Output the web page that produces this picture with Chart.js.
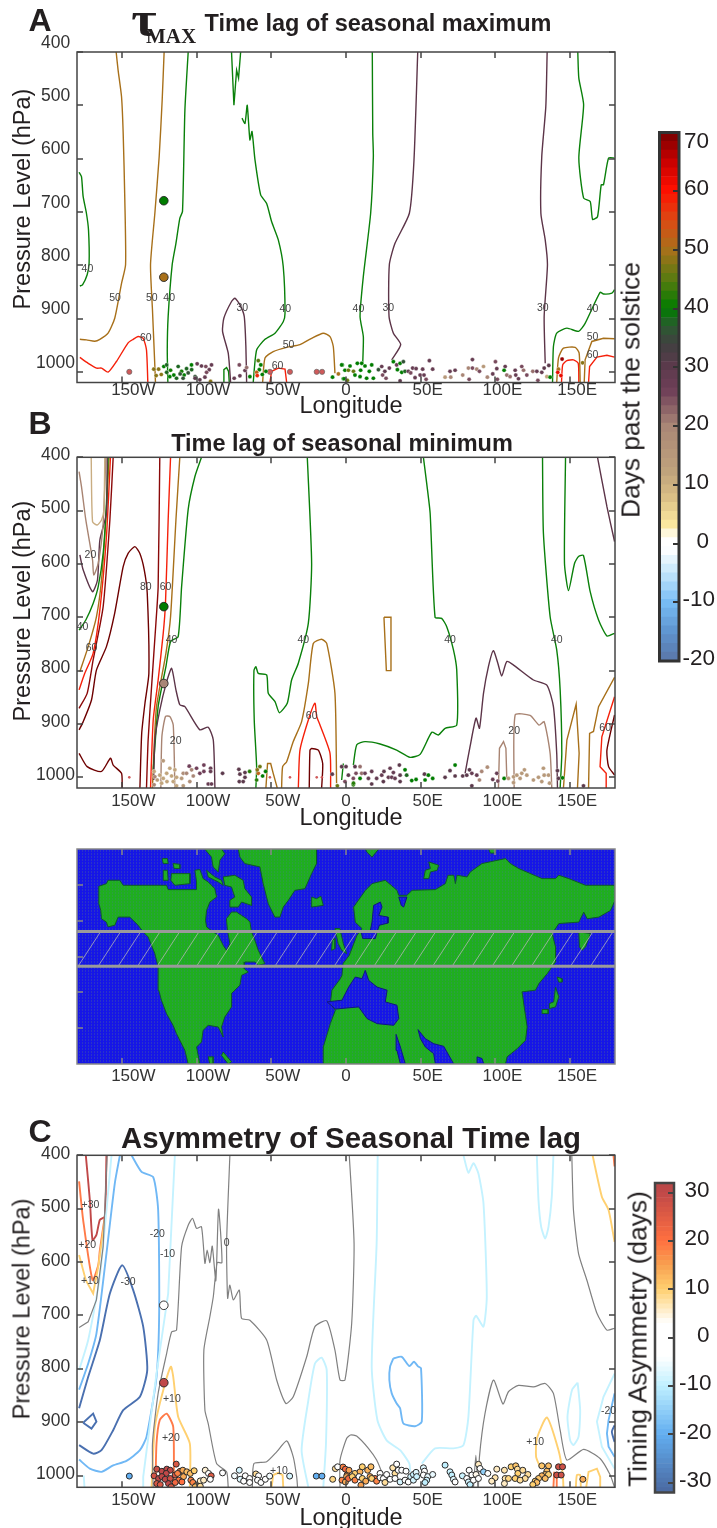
<!DOCTYPE html>
<html>
<head>
<meta charset="utf-8">
<title>Seasonal time lag</title>
<script src="https://cdn.jsdelivr.net/npm/chart.js@4/dist/chart.umd.min.js"></script>
<style>
  html, body { margin: 0; padding: 0; background: #fff; }
  #page { position: relative; width: 717px; height: 1528px; overflow: hidden; font-family: "Liberation Sans", Arial, sans-serif; color: #231f20; }
  canvas { position: absolute; left: 0; }
  .t { position: absolute; white-space: nowrap; transform: translate(-50%, -50%); }
  .v { transform: translate(-50%, -50%) rotate(-90deg); }
  .letter { font-weight: bold; font-size: 32px; }
  .title { font-weight: bold; font-size: 23.5px; }
  .axis { font-size: 23.5px; }
  .bar { font-size: 26.3px; }
  .serif { font-family: "Liberation Serif", serif; font-weight: bold; }
</style>
</head>
<body>
<div id="page">
  <canvas id="panelA" style="top:20px"></canvas>
  <canvas id="panelB" style="top:435px"></canvas>
  <canvas id="panelMap" style="top:835px"></canvas>
  <canvas id="panelC" style="top:1133px"></canvas>
  <canvas id="barLag" style="left:650px;top:120px"></canvas>
  <canvas id="barAsym" style="left:645px;top:1170px"></canvas>

  <div class="t letter" style="left:40px;top:20px">A</div>
  <div class="t letter" style="left:40px;top:423px">B</div>
  <div class="t letter" style="left:40px;top:1131px">C</div>
  <div class="t serif" style="left:144px;top:19px;font-size:50px;transform:translate(-50%,-50%) scaleX(1.1)">τ</div>
  <div class="t serif" style="left:171px;top:36px;font-size:21px">MAX</div>
  <div class="t title" style="left:378px;top:23px">Time lag of seasonal maximum</div>
  <div class="t title" style="left:342px;top:443px">Time lag of seasonal minimum</div>
  <div class="t title" style="left:351px;top:1138px;font-size:29.4px">Asymmetry of Seasonal Time lag</div>
  <div class="t axis v" style="left:22px;top:199px">Pressure Level (hPa)</div>
  <div class="t axis v" style="left:22px;top:611px">Pressure Level (hPa)</div>
  <div class="t axis v" style="left:22px;top:1309px">Pressure Level (hPa)</div>
  <div class="t axis" style="left:351px;top:405px">Longitude</div>
  <div class="t axis" style="left:351px;top:817px">Longitude</div>
  <div class="t axis" style="left:351px;top:1517px">Longitude</div>
  <div class="t bar v" style="left:631px;top:390px">Days past the solstice</div>
  <div class="t bar v" style="left:638px;top:1339px">Timing Asymmetry (days)</div>
</div>

<script>
// axis ticks
const lonTicks = [-150, -100, -50, 0, 50, 100, 150];
const lonLabels = ['150W', '100W', '50W', '0', '50E', '100E', '150E'];
const pressureTicks = [400, 500, 600, 700, 800, 900, 1000];
const latTicks = [15, 30, 45, 60, 75];
const lagTicks = [-20, -10, 0, 10, 20, 30, 40, 50, 60, 70];
const asymTicks = [-30, -20, -10, 0, 10, 20, 30];

// colorbar bands
const lagBands = [-20,-18.5,-17,-15.5,-14,-12.5,-11,-9.5,-8,-6.5,-5,-3.5,-2,-0.5,1,2.5,4,5.5,7,8.5,10,11.5,13,14.5,16,17.5,19,20.5,22,23.5,25,26.5,28,29.5,31,32.5,34,35.5,37,38.5,40,41.5,43,44.5,46,47.5,49,50.5,52,53.5,55,56.5,58,59.5,61,62.5,64,65.5,67,68.5,70,71];
const asymBands = [-32,-31,-30,-29,-28,-27,-26,-25,-24,-23,-22,-21,-20,-19,-18,-17,-16,-15,-14,-13,-12,-11,-10,-9,-8,-7,-6,-5,-4,-3,-2,-1,0,1,2,3,4,5,6,7,8,9,10,11,12,13,14,15,16,17,18,19,20,21,22,23,24,25,26,27,28,29,30,31,32];

// colormap anchors
const lagStopValues = [-20,-15,-10,-5,-1,1,3,8,12,20,26,30,34,37,40,45,50,55,60,65,70];
const lagStopColors = ['#5a76a8','#5f95d0','#78bdf5','#c4e6fb','#ffffff','#ffffff','#fdeaa0','#d8bd85','#c0a47c','#a98676','#6f3f58','#5c3a4c','#404040','#2a5a30','#007c00','#5a7a10','#a8701a','#dc4a14','#ff1000','#c80000','#780000'];
const asymStopValues = [-32,-20,-10,-4,3,10,15,20,30,32];
const asymStopColors = ['#4a68a0','#62aef0','#c0f0ff','#ffffff','#ffffff','#ffd070','#f8a050','#ff7040','#c04848','#b84848'];

// panel A contours, [lon, hPa]
const max30 = [
  [[-77.2,1020],[-78.8,965],[-82.6,924],[-81.7,899],[-76.6,868],[-74.3,862],[-71,874],[-68.1,896],[-67,952.5],[-66.5,1020]],
  [[48,400],[45.5,602.5],[42.4,702.5],[32.8,759],[29,799],[28.8,896],[31.7,927.5],[36.6,949],[30.6,977.5]],
  [[134.6,400],[133.7,502.5],[131,596],[130.4,702.5],[133.3,752.5],[134.8,799],[132.6,896],[133.3,984]]
];
const max40 = [
  [[-178.6,625.6],[-177,633.8],[-175.9,671],[-173.7,702.5],[-172.3,733.8],[-171.9,796],[-173.2,818],[-176.3,837],[-178.1,839]],
  [[-105.6,400],[-107.8,509],[-109.4,699],[-111.2,712],[-113.8,759],[-116.3,799],[-119,896],[-119.6,959],[-119.2,1020]],
  [[-76.6,400],[-75,500],[-73.2,434],[-71.9,449],[-70.5,400]],
  [[-69.6,524],[-67.6,534],[-66.1,500],[-64.3,565],[-62.9,549],[-60.9,602.5],[-57.1,668],[-53.1,684],[-49.8,718],[-45.3,752.5],[-42,802.5],[-40.8,890],[-42,906],[-47.5,927.5],[-54.2,939],[-59.8,959],[-62.1,1020]],
  [[-82.1,1020],[-81.7,996],[-79.9,992],[-78.6,999],[-78.1,1020]],
  [[17.6,400],[17.9,552.5],[18.3,596],[16.5,702.5],[11.6,821],[9.4,896],[11.6,934],[11.2,984]],
  [[155.1,400],[155.8,449],[159,499],[155.8,599],[159,674],[163.4,680.6],[165,714],[168.3,709],[170.8,649],[172.3,649],[175.7,599],[179.7,599]],
  [[138.2,1020],[138.8,952.5],[141,927.5],[147.8,918],[155.6,924],[160,909],[170,851],[172.3,854],[177.9,852.5],[179.7,846]]
];
const max50 = [
  [[-153.8,400],[-152.5,434],[-150.2,484],[-149.1,552.5],[-148,677.5],[-147.5,799],[-150.2,834],[-154.7,899],[-159.2,927.5],[-164.7,939],[-168.1,942.5],[-173.7,940],[-178.1,939]],
  [[-121.7,400],[-123,490],[-125,596],[-127.9,702.5],[-130.8,799],[-129.5,884],[-127.9,990],[-127.5,1020]],
  [[-55.8,1020],[-54.2,974],[-48.7,962],[-39.7,954],[-30.8,949],[-23,937],[-15.2,927.5],[-10.7,934],[-8.5,952.5],[-7.4,1002.5]],
  [[141,1020],[142.2,974],[145.5,955.6],[153.4,954],[156,965],[156.7,1020]],
  [[159.4,1020],[160,977.5],[164.5,943],[172.3,937],[179.7,938]]
];
const max60 = [
  [[-178.1,973],[-172.5,984],[-166.9,993],[-163.6,993],[-159.2,1000.6],[-153.6,980.6],[-145.8,945.6],[-142.4,939],[-139.1,933.8],[-135.7,937],[-133.5,959],[-132.6,1020]],
  [[-50.9,1020],[-49.8,999],[-45.3,993],[-40.8,995],[-39.7,1020]],
  [[144.2,1020],[145,987],[147.8,979],[152.2,977.5],[155.4,984],[155.8,1020]],
  [[162.3,1020],[163,990],[167.9,972.5],[174.6,969],[179.7,972.5]]
];
const maxLabels = [[-173,807.5,'40'],[-154.5,862.5,'50'],[-130,862.5,'50'],[-118.3,862.5,'40'],[-69.4,881,'30'],[-40.6,883,'40'],[-134,937,'60'],[-38.4,949,'50'],[-45.8,989,'60'],[8.3,883,'40'],[28.3,880.6,'30'],[131.7,880.6,'30'],[165,882,'40'],[165,934,'50'],[165,969,'60']];
const maxSites = [[-121.9,679,40],[-121.9,822.5,50]];
// soundings near 57 days are printed in a paler red, with an edge
const maxPale = [[-145,1000],[-50.9,1000],[-37.5,1000],[-19.6,1000],[-16,1000]];
// panel A soundings, [lon, hPa, days]
const maxDots = [
  [-128.6,995,48],[-125.4,995,48],[-127,1007,48],[-123.6,1005,48],
  [-121.9,990,40],[-120,987,38],[-117.4,997,41],[-120,1001,38],[-117.9,1009,40],[-115.2,1006,40],[-112.3,990,38],[-110,999,41],[-113.4,1012,38],[-108.3,1006,40],[-106.7,994,38],[-103.4,987,40],[-103.3,996,38],[-105.6,1002,36],[-101,1009,36],[-109,1012,36],[-111,1004,36],
  [-99.6,985,28],[-96.7,989,28],[-93.8,990,25],[-90,987,28],[-91.5,996,28],[-93.3,1001,25],[-94.4,1010,28],[-97.8,1015,30],[-101,1012,30],[-90.6,1018,48],
  [-71.4,987,25],[-67.6,997.5,28],[-71,1007.5,28],[-74.8,1012,28],[-66.5,992,22],[-64.3,1009,40],[-58.7,979,45],[-57,987,40],[-58,996,40],[-59.8,1001,52],[-59.4,1007,58],[-56,1005,40],[-53.6,999,40],
  [-9,1010,40],[-5.1,1004,50],[-2.5,987,40],[-1.8,1013,40],
  [-2.9,987,40],[2.7,989,40],[7.6,984,40],[10.5,984,40],[12.7,989,40],[17.2,987,40],[-0.7,997,40],[1.6,997,46],[5,999,46],[9.8,997,40],[15.6,999,40],[18.3,1012,40],[6,1006,40],[9.4,1009,40],[13.8,1012,40],[-1.3,1013,40],[0.9,1016,46],
  [21.7,996,36],[23.9,990,28],[26,999,30],[29,993,28],[31.7,981,40],[33.9,987,28],[36.2,984,40],[38.4,981,36],[34.4,996,40],[37.3,1001,40],[39.5,999,38],[24.5,1006,25],[26.8,1012,25],[36.2,1017,30],
  [41.7,999,28],[44.6,993,28],[46.9,994,28],[43.3,1002,25],[46.2,1011,28],[49.6,1006,28],[51.3,995,28],[52.2,1006,28],[53.6,1014,25],[55.8,979,28],[58,995,28],
  [66.3,1010,15],[69.6,999,28],[73,997,28],[70.1,1010,20],[78.1,1006,20],[81.9,993,20],[84.6,977,28],[84.6,993,25],[87.5,995,20],[89.3,999,25],[82.4,1014,25],[92,990,15],[94.6,1010,20],
  [98.2,1004,28],[100,981,25],[100.9,994,28],[101.3,1014,25],[106.5,990,28],[105.8,997,40],[107.6,1006,22],[109.8,1009,22],[113.2,997,28],[113.6,1006,28],[117.6,990,25],[118.8,997,22],[115.4,1013,28],[121,1006,25],[125,999,22],[127.7,999,28],[131,1001,28],[132.6,993,30],[135.7,988,30],[128.4,1016,25],[134.4,1009,12],[136.6,1010,40],
  [142.2,995,50],[144.6,976,68],[141.7,1001,62],[143.8,1007,62],[158.3,983,48]
];

// panel B contours
const min10 = [
  [[-170.5,400],[-169.6,520.6],[-166.5,527],[-163.6,517.5],[-162,499],[-161.4,400]]
];
const min20 = [
  [[-178.6,427],[-177,455],[-174.1,517.5],[-169.6,592.5],[-168.8,620.6],[-165.8,599],[-162.5,524],[-160.7,400]],
  [[-123.9,1020],[-123.2,924],[-120.8,886],[-117.9,886],[-115.6,902],[-114.5,1020]],
  [[102,1020],[102.7,945.6],[105.4,933],[107,945.6],[107.6,1002]],
  [[112.5,1020],[113.2,883],[123.2,884],[129.2,902],[132.6,895.6],[136.6,955],[137.7,1020]]
];
const min30 = [
  [[-178.1,583],[-175.9,611],[-169.6,652],[-166.3,630],[-164.7,555],[-160.3,505],[-159.8,400]],
  [[-128.6,1005],[-127.9,930],[-124.6,873.8],[-120,820.6],[-116.7,795.6],[-113.8,836],[-111.2,864],[-107.8,867.5],[-97.8,911],[-92.2,906],[-88.8,930],[-87.7,1020]],
  [[79.7,992.5],[83,942.5],[87,889],[89.3,908],[92,842.5],[95.3,792.5],[98.6,762.5],[101.6,786],[104.2,810],[107.6,783],[112.1,789.5],[125.4,817.5],[134.4,827],[138.8,867.5],[141,955],[141.5,1020]],
  [[168.3,400],[174.6,492.5],[179.7,558]]
];
const min40 = [
  [[-178.6,724],[-174.1,705],[-169.2,674],[-165.8,642.5],[-162.5,580],[-160.3,486],[-159.2,400]],
  [[-96.7,400],[-101.1,436],[-105.6,497.5],[-110,642.5],[-112.3,736],[-117.4,745.6],[-120.5,792.5],[-125.7,867.5],[-129,986]],
  [[-25.9,400],[-23,599],[-25.2,711],[-31.9,786],[-36.4,817.5],[-39.3,861],[-44.6,878.8],[-47.5,858],[-52,842.5],[-53.1,808],[-58.7,805],[-60.3,792.5],[-61.6,800],[-61.4,892.5],[-59.8,980],[-60.3,1020]],
  [[-1.8,974],[-2.9,1005]],
  [[4.9,977],[7.2,939],[12.7,933],[22.8,937.5],[33.9,949],[42.9,962.5],[49.6,957],[57.4,915.6],[61.8,920.6],[66.3,908],[74.1,902],[74.1,799],[71.9,761],[67.4,717.5],[64,702],[59.6,700],[56.3,505],[54,449],[51.8,400]],
  [[131.5,400],[132.1,542.5],[136.6,699],[141,761],[143.3,836],[144.4,955],[143.3,1020]],
  [[146.9,400],[146.2,599],[148.9,650],[152.9,599],[155.6,586],[158.9,584],[163.4,652],[169,705],[174.6,735],[179.7,730]]
];
const min50 = [
  [[-178.1,802],[-172.5,755],[-167,699],[-163.6,630],[-160.7,517.5],[-158.5,400]],
  [[-111.2,400],[-113.8,517.5],[-117.4,699],[-120.5,767.5],[-126.8,867.5],[-128.6,955],[-129.5,1020]],
  [[-43.1,1020],[-42.4,980],[-39.7,970.6],[-35.3,933],[-29.7,895.6],[-25.2,824],[-21.9,749],[-16.3,741],[-12.9,749],[-7.4,842.5],[-6.3,1011]],
  [[-53.6,1020],[-52.5,974],[-50.4,974],[-48.7,992.5],[-46,1020]],
  [[25.4,700],[30.1,700],[30.1,800],[27,800],[25.4,700]],
  [[145.5,1020],[147.8,930],[154,863],[156,955],[154.9,1020]],
  [[162.3,1020],[163,917.5],[165.6,914],[169,867.5],[179.7,812.5]]
];
const min60 = [
  [[-178.6,836],[-174.8,805],[-169.2,767.5],[-164.7,686],[-160.3,549],[-157.6,400]],
  [[-117.4,400],[-119,517.5],[-120.8,674],[-122.3,730],[-125.7,817.5],[-129,892.5],[-130.8,1020]],
  [[-31.9,1020],[-30.8,949],[-25.2,892.5],[-20.8,861],[-19.6,886],[-17.4,902],[-10.7,955],[-10.3,1020]],
  [[174.6,1020],[174.1,992.5],[170,980],[171.2,924],[179.7,849]]
];
const min70 = [
  [[-178.6,870.6],[-173.2,842.5],[-169.2,780],[-162.5,680],[-158,517.5],[-155.8,400]],
  [[-124.6,400],[-125.7,642.5],[-127.2,711],[-130.1,830],[-132.4,930],[-133.5,1020]]
];
const min80 = [
  [[-178.6,911],[-175.9,896],[-170.3,855],[-167,799],[-160.3,755],[-154.8,692.5],[-149.1,605],[-145.8,580],[-141.3,567.5],[-138,580],[-135,611],[-133,655],[-131.9,805],[-134.5,860.6],[-136.7,917.5],[-137.9,1020]],
  [[-178.6,955],[-173.2,980],[-163.6,989],[-157.6,964],[-155.8,977],[-150.2,992.5],[-149.8,1020]],
  [[-24.6,1020],[-24.1,949],[-23,946],[-18.5,949],[-15.6,974],[-16.3,1020]],
  [[179.7,995.6],[175.7,980],[174.6,949],[179.7,883]]
];
const minLabels = [[-171,583,'20'],[-134,644,'80'],[-120.8,644,'60'],[-176.3,717.5,'40'],[-170.3,757,'60'],[-116.7,742.5,'40'],[-28.6,742.5,'40'],[-23,886,'60'],[-114,933,'20'],[69.6,742.5,'40'],[141,742.5,'40'],[112.5,914,'20'],[173.4,908,'60']];
const minSites = [[-121.9,680,40],[-121.9,824,20]];
const minPale = [[-50.9,1000],[-37.5,1000],[-19.6,1000],[-16.1,1000],[-145,1000]];
const minDots = [
  [-122.3,969,15],[-128.4,989,12],[-127.9,999,20],[-126.3,1005,15],[-124.6,996,12],[-122.3,1002,12],[-120,992.5,12],[-117.9,983,12],[-116.7,997.5,12],[-114.5,986,12],[-113.4,1000,12],[-115.6,1008,12],[-119.8,1008,12],[-123.4,1011,12],[-110,1002,15],[-108.9,992.5,18],[-106.7,992.5,20],[-104.9,979,26],[-103.3,986,20],[-102.2,997.5,20],[-104.5,1008,18],[-100,983,26],[-97.8,992.5,26],[-95.1,977,26],[-95.1,989,26],[-90.6,983,28],[-90.6,989,28],[-92.2,1012.5,28],[-90,1012.5,28],[-108.9,1016,15],[-113.4,1016,12],[-128.4,1014,20],
  [-82.6,992.5,30],[-71.7,985,30],[-71,994,30],[-67.6,991,30],[-71.4,1008,30],[-67.6,1000,30],[-68.8,1008,30],[-64.5,989,42],[-59.8,1005,42],[-58.7,992.5,52],[-57.6,980,46],[-59.4,986,48],[-55.8,997.5,40],[-53.8,989,40],
  [-9.2,994,30],[-5.8,1016,46],[-2.9,980,30],[0,980,30],[1.6,996,30],[-0.7,1008,25],[4.9,1002,25],[4.9,1014,42],
  [6,980,30],[9.4,980,22],[10.5,992.5,22],[6.7,992.5,25],[9.4,1002,40],[5,1011,42],[12.7,992.5,28],[17.2,989,28],[15,1002,28],[17.2,1012.5,30],[20.5,1002,28],[23.9,996,28],[25.4,989,30],[25,1008,30],[29.5,983,28],[31.7,991,28],[28.4,1000,28],[30.6,1000,28],[32.8,1002,28],[35.7,977,30],[36.2,996,30],[39.5,986,40],[40.6,996,38],[36.2,1008,30],[44,1006,40],[46.9,1004,40],[52.5,994,30],[55.1,996,40],[52.9,1005,40],[58,1002,40],
  [73,977,40],[69.6,987.5,30],[73,997.5,30],[66.3,1000,30],[78.1,997.5,30],[80.8,996,30],[82.6,986,30],[84.2,992.5,28],[87.5,996,28],[89.3,1005,20],[90.8,989,20],[94.6,981,18],[84.2,1016,30],[98.2,1004,28],[100.9,992.5,28],[101.6,1007,25],[105.8,1002,40],[108.7,1002,15],[112.1,999,15],[114.3,996,15],[116.5,1002,15],[119.4,986,15],[121,996,15],[117.6,992.5,15],[112.1,1010,15],[125.4,1005,15],[128.8,1000,15],[132.1,983,15],[132.6,996,15],[135.5,996,15],[131,1008,15],[136.2,1011,15],[141.5,987.5,30],[142.2,1002,30],[144.9,1001,40],[158.9,1016,30]
];

// panel C contours
const asymN30 = [
  [[-178.6,874],[-172.5,815],[-164.7,746],[-158,659],[-149.8,606],[-142.4,652.5],[-135.7,721],[-133,802.5],[-137.9,852.5],[-149.1,877.5],[-155.8,915],[-163.6,952.5],[-169.2,959],[-178.6,943]],
  [[-175.9,901],[-169.2,884],[-167,899],[-170.3,912],[-175.9,901]],
  [[179.7,906],[177.9,918],[179.7,937]]
];
const asymN20 = [
  [[-178.6,839],[-172.5,790],[-167,734],[-160.3,584],[-154.7,452.5],[-151.3,400]],
  [[-143.5,400],[-136.8,431],[-129,441],[-125.7,502.5],[-125,690],[-126.8,815],[-133.5,927.5],[-137.9,952.5],[-146.9,972.5],[-155.8,981],[-163.6,993],[-171.4,987],[-178.6,970]],
  [[31.7,780.6],[29.5,796],[29,821],[30.6,846],[33.9,865],[36.2,874],[38.4,902.5],[46.2,907.5],[50.7,899],[50.2,799],[48.4,796],[45.5,786.9],[42.4,795],[37.3,777.5],[31.7,780.6]],
  [[179.7,846],[175.7,896],[174.6,921],[175.7,946],[179.7,965]]
];
const asymN10 = [
  [[-178.6,802.5],[-172.5,746],[-164.7,627.5],[-156.9,400]],
  [[-114.5,400],[-119,659],[-126.8,809],[-135.7,1002.5],[-135.7,1022]],
  [[-175.5,1000],[-175,1022]],
  [[-25.2,1022],[-29.7,952.5],[-25.2,859],[-20.8,790],[-16.3,779],[-12.9,802.5],[-13.4,940],[-15.2,1022]],
  [[21.2,400],[20.5,565],[17.2,796],[21,896],[27.2,934],[36.2,952.5],[42.4,977.5],[42.9,993]],
  [[50.7,977.5],[59.6,949],[71.9,949],[78.6,943],[81.9,890],[85.3,709],[87.1,700.6],[92,721],[94.2,665],[92,490],[88.6,434],[85.3,415],[81.9,432.5],[78.6,400]],
  [[127.7,400],[128.8,484],[130.6,534],[133.3,556],[135.5,534],[137.7,477.5],[138.8,400]],
  [[155,826],[151.2,840],[148.2,890],[150,934],[152.2,943],[155.6,927.5],[156.7,877.5],[155,826]],
  [[179.7,809],[172.3,852.5],[167.9,899],[171.2,946],[179.7,987]]
];
const asym0 = [
  [[-178.6,722.5],[-172.5,712],[-167,671],[-162.5,571],[-159.8,400]],
  [[-129,1022.5],[-129.5,940],[-125.7,846],[-120,771],[-116.7,731],[-113.4,727.5],[-110,571],[-105.6,531],[-102.7,518],[-100,537],[-96.7,534],[-94.4,602.5],[-92.9,577.5],[-91.1,601],[-89.5,570],[-87.1,635],[-85.3,501],[-83,601],[-86.2,601],[-88.8,665],[-91.1,702.5],[-95.1,765],[-94.4,877.5],[-92.2,902.5],[-86.6,977.5],[-79.9,993],[-78.8,1022.5]],
  [[-77.7,400],[-79.9,565],[-79.2,668],[-77.7,643],[-75.4,671],[-71.4,652.5],[-69.9,705.6],[-64.3,709],[-53.1,746],[-46.4,821],[-40.2,865],[-35.3,852.5],[-26.3,777.5],[-20.8,721],[-12.9,710],[-7.4,765],[-4,821],[-0.7,821],[3.8,715],[5.4,565],[2.2,400]],
  [[-62.7,1022.5],[-61.6,977.5],[-53.1,974],[-46.4,955.6],[-39.7,935],[-35.3,965],[-33,1002.5],[-32.4,1022.5]],
  [[-4,1022],[-4,971],[0.4,930.6],[3,924],[7.1,926],[15,949],[20.5,971],[23.9,993]],
  [[151.1,400],[152.2,502.5],[155.6,584],[161.2,634],[167.9,696],[174.6,727.5],[179.7,724]],
  [[88.6,1022],[89.3,965],[93,884],[98.7,821],[105,866],[108.7,843],[115.4,831],[125.4,834],[133.3,827.5],[138.8,846],[143.3,915],[147.8,971],[159,951],[170,968],[176.8,999],[179.7,1022]],
  [[85.3,1022],[86.9,962],[88.2,1022]]
];
const asymP10 = [
  [[-178.6,587],[-174.1,634],[-169.2,659],[-165.8,609],[-161.4,521]],
  [[-104.5,1022],[-104.5,940],[-112.3,890],[-115.6,815],[-117.2,796],[-122.3,840],[-127.9,909],[-130.1,1022]],
  [[-49.8,1022],[-48.7,999],[-45.3,995],[-42.4,999],[-42,1022]],
  [[165,400],[171.2,477.5],[175.7,502.5],[179.7,562]],
  [[145.5,1022],[145,996],[142.2,952.5],[134.4,891],[127.7,931],[127.2,965],[129.9,984]],
  [[153.8,1022],[154.5,999],[156.7,999],[157.1,1022]],
  [[160.7,1022],[162.3,993],[167.9,987],[170.1,1002.5],[170.1,1022]]
];
const asymP20 = [
  [[-178.6,449],[-175.9,521],[-169.6,634],[-165.8,606],[-164.7,577.5],[-161.4,515]],
  [[-115.2,1022],[-115.6,909],[-120,884],[-124.6,896],[-126.8,940],[-127.5,1022]],
  [[179,400],[179.7,421]],
  [[138.8,1022],[139.3,993]],
  [[141,1022],[141,993]]
];
const asymP30 = [
  [[-174.1,400],[-171.4,484],[-169.6,559],[-167,549],[-164.7,521],[-161.4,515],[-160.3,400]]
];
const asymLabels = [[-171,493,'+30'],[-173.2,569,'+20'],[-171.4,635,'+10'],[-126.3,547.5,'-20'],[-119.4,585,'-10'],[-145.8,637,'-30'],[-79.9,564,'0'],[-116.5,856,'+10'],[-117.2,929,'+20'],[-44.9,991,'+10'],[126.6,937,'+10'],[175.7,879,'-20']];
const asymSites = [[-121.9,681,0],[-121.9,826,30]];
const asymDots = [
  [-145,1001,-20],
  [-126.6,988,28],[-128.4,1000.5,27],[-125.4,1005.5,30],[-126.6,1015,26],[-123.2,992,30],[-119.9,988,30],[-117.6,990,30],[-120.3,996,30],[-123.2,1002,30],[-121,1007,30],[-117.6,1005.5,28],[-118.8,1015,30],[-124.3,1017,26],[-114.3,999,26],[-113.6,978.6,26],[-117,1021,26],
  [-111,992,18],[-109.2,990,14],[-112.7,996,18],[-108.7,1002,14],[-112,1008.6,20],[-109.8,1012,20],[-114.3,1013,22],[-106.5,993,12],[-104.2,996,12],[-101.6,991,10],[-103.8,1008.6,18],[-102.5,1013,18],[-100.2,1019,12],[-97.5,1010,6],[-95.3,1008.6,6],[-94.2,990,5],[-92,996,3],[-90.2,1000.5,25],[-90.8,1007,2],[-100.9,1021,12],[-97.5,1020,8],
  [-82.6,995,0],[-71.4,990,-8],[-74.6,1000.5,-5],[-70.8,1007,-7],[-67.4,1000.5,-3],[-64.5,1005.5,-3],[-64.5,1013,0],[-68.5,1010.5,-3],[-60.3,997,8],[-58.5,1000.5,3],[-59.2,1008.6,-2],[-56.9,1013,3],[-54,1007,-3],[-51.1,1001,-5],[-37.7,1001,-8],[-19.9,1001,-20],[-16.1,1001,-20],[-8.9,1007,9],[-7.1,987,8],[-5.6,983.6,3],[-2,984,18],[-0.4,988,22],[0.7,999,18],[-2.7,1008.6,18],[-0.4,1012,14],
  [2,990,15],[0.4,1002,14],[1.6,1005.5,22],[6,996,10],[4.2,1002,10],[9.4,993,13],[10.9,983.6,10],[14.5,990,13],[16.7,983.6,12],[6,1008.6,18],[8.7,1002,3],[10.9,1005.5,10],[13.2,1010.5,14],[16.1,1002,14],[10,1018,15],[19.4,1005.5,20],[17.2,1005.5,10],[20.5,1010.5,18],
  [22.8,996,1],[22.8,1004,2],[25,1005.5,3],[26.1,1013,8],[27.2,998,3],[29.5,1007,1],[31.3,985.5,7],[33.9,978.6,2],[32.8,996,8],[35,990,3],[32.8,1005.5,-1],[37.3,990,3],[40.2,991.8,3],[36.2,1012,-8],[39.5,1008.6,-3],[41.7,1012,-1],[43.3,1002,-8],[45.1,998,-9],[46.9,994,-7],[45.1,1008.6,-8],[47.3,1002,-9],[51.8,985.5,-7],[52.5,991.8,-2],[51.8,999,-2],[54.7,1002,-6],[58,998,-6],[54,1008.6,-9],[52.9,1013,-10],
  [66.3,980.5,-10],[69.6,993,-9],[70.8,999,-10],[71.9,1007,-7],[73,1012,0],[77.9,1000.5,-9],[82.4,990,1],[80.8,1005.5,-3],[84.2,999,2],[81.9,1012,-8],[83,1017,-10],[85.3,1008.6,-3],[87,998,4],[88.6,979,6],[89.7,986.8,3],[88.6,1005.5,3],[92,993,-15],[94.9,996,1],
  [100.9,988,6],[99.8,1004,7],[97.5,1010.5,6],[106,990,7],[106.5,1005.5,7],[108.7,1005.5,9],[106,1015,6],[110.5,983.6,10],[113.6,981.8,11],[114.7,988,8],[115,996,10],[113.2,1005.5,10],[118.3,990,8],[121.7,998,8],[119.9,1005.5,8],[116.5,1008.6,8],
  [131,981.8,11],[135.5,981.8,12],[134.4,991.8,12],[133.3,998,12],[131,1000.5,13],[135.5,998,10],[128.8,1005.5,11],[133.3,1005.5,12],[126.6,1010.5,10],[127.7,1013,12],[125,1017,10],[142.2,983.6,28],[144.9,983.6,28],[141,999,28],[144,999,28],[158.5,1007,14]
];

// map outlines, [lon, lat]
const americaLand = [[-165.4,74.4],[-160.3,75.5],[-159.2,76.9],[-151.4,76.9],[-149.1,74.8],[-120.1,74.8],[-119,73],[-100,73],[-100,76.2],[-101.1,81.1],[-97.8,81.4],[-95.6,77.6],[-92.2,76.2],[-87.8,73.4],[-86.6,69.9],[-91.1,67.8],[-93.3,64.3],[-94,60.1],[-93.3,57.4],[-88.9,55.3],[-85.5,53.9],[-82.2,49.7],[-80,47.6],[-77.7,50.4],[-79.3,56],[-80,60.8],[-76.6,63.6],[-73.3,63.6],[-69.9,62.2],[-66.5,60.8],[-64.3,59.4],[-63.2,55.3],[-61,51.8],[-58.7,47.6],[-54.3,42],[-58.7,41.3],[-61,42.7],[-67.7,42.7],[-68.1,39.9],[-65.4,38.5],[-69.9,37.1],[-71,33],[-76.6,29.5],[-76.6,23.9],[-81.1,19.7],[-83.3,15.5],[-82.2,11.3],[-85.5,15.5],[-92.2,16.2],[-95.6,14.1],[-96.7,9.2],[-100,7.1],[-97.8,0],[-105.6,0],[-107.8,5.7],[-113.4,12.7],[-115.7,16.2],[-120.1,21.1],[-123.5,26.7],[-125.3,30.9],[-125.7,40.6],[-127.9,46.2],[-132.4,53.2],[-135.7,55.3],[-139.1,58.1],[-144.7,61.5],[-152.5,61.5],[-154.7,58.1],[-159.2,57.4],[-160.3,59.4],[-163.6,60.8],[-164.1,64.3],[-165.4,67.1]];
const eurasiaLand = [[-15.2,0],[-15.2,7.1],[-10.5,16.9],[-7.1,22.5],[-10.5,25.3],[-9.4,30.9],[-3.8,35.7],[-2.7,37.1],[-2,42],[2.2,45.5],[7.4,53.9],[10.7,56.7],[6.2,59.4],[5.1,65.7],[13,72.7],[17.4,75.5],[26.3,76.9],[34.1,72.7],[35.3,70.6],[40.8,70.6],[44.2,72.7],[59.8,73],[66.5,75.5],[68.3,79],[72.1,79],[73.2,75.5],[74.3,79],[81,78.3],[83.2,80.4],[91,83.9],[106.7,86],[110,83.9],[115.6,81.8],[131.2,77.6],[140.2,77.6],[142.4,79],[149.1,77.6],[160.3,74.8],[180,74.8],[180,68.5],[177,64.3],[169.2,61.5],[161.4,60.8],[159.1,63.6],[155.8,59.4],[142.4,58.8],[138,54.6],[140.2,49],[140.2,42.7],[134.6,37.8],[129,33.6],[126.8,30.9],[117.8,30.2],[121.2,15.5],[120.1,9.9],[114.5,6.4],[107.8,3],[106.7,0]];
const islands = [
  [[-123,86],[-119.5,86],[-119,83.9],[-122.3,83.9]],
  [[-115.7,83.9],[-111.2,83.6],[-111.2,81.8],[-115,81.8]],
  [[-122.3,81.1],[-119.5,81.1],[-119,76.9],[-122.3,76.9]],
  [[-116.8,79.7],[-104.5,79.7],[-104.5,75.5],[-114.5,74.8],[-117.2,76.9]],
  [[-94.5,90],[-83.3,90],[-81.1,88],[-84.4,85.3],[-85.5,80.4],[-88.9,82.5],[-90,86.6]],
  [[-93.3,81.1],[-87.8,78.3],[-83.3,76.9],[-82.2,74.8],[-85.5,76.2],[-92.2,78.3]],
  [[-72.1,90],[-19.7,90],[-19.7,83.9],[-23,79.7],[-27.5,73.4],[-34.2,72.7],[-38.6,68.5],[-42,65.7],[-44.2,61.5],[-47.6,61.5],[-52,67.1],[-55.4,75.5],[-57.6,82.5],[-67.7,83.9],[-71,86.6]],
  [[-82.2,78.3],[-74.4,79],[-68.8,76.9],[-67.7,73.4],[-63.2,69.9],[-63.2,66.4],[-69.9,67.8],[-72.1,65.7],[-77.7,65.7],[-77.7,68.5],[-74.4,69.9],[-76.6,74.1],[-81.1,74.8]],
  [[-23,69.9],[-19.7,69.2],[-16.8,70.2],[-15.2,66.4],[-23,65.7]],
  [[-82.2,5],[-76.6,0.9],[-78.8,0],[-83.3,3.6]],
  [[-92.2,3],[-88.9,3],[-88.9,0],[-91.1,0]],
  [[-7.4,56.7],[-4.1,56.7],[-1.8,50.4],[0.4,46.2],[-2.9,47.6],[-5.2,50.4]],
  [[-9.2,51.8],[-7.4,52.5],[-7.4,48.3],[-9.6,47.6]],
  [[13,90],[21.9,90],[17.4,86.6],[14,88.7]],
  [[95.5,90],[100,90],[100,88.3],[96.6,88.3]],
  [[52,77.6],[53.1,81.1],[56.5,81.8],[55.4,84.6],[62,83.2],[61,81.1],[56.5,80.4],[55.4,77.6]],
  [[155.8,55.3],[163.6,54.6],[160.3,49],[158,47.6],[156.2,49]],
  [[140.2,32.2],[142.4,28.1],[140.2,23.9],[136.1,23.2],[136.1,25.3],[139,26]],
  [[131.2,22.8],[135.3,22.8],[135.3,21.1],[131.2,21.1]],
  [[141.3,36.4],[144.6,35.7],[144.6,34.3],[142.4,34.3]]
];
const inlandSeas = [
  [[18.5,66.4],[23,67.8],[24.1,65.7],[21.9,62.2],[28.1,61.5],[28.1,59],[22.3,58.1],[20.8,55.3],[19.6,52.5],[11.2,52.5],[10.3,54.9],[16.3,55.7],[17.4,59.4]],
  [[35.3,69.9],[40.8,69.9],[38.6,65.7],[37,66.4]],
  [[-12.7,26],[-2.7,26.7],[1.8,32.2],[6.2,36.4],[10.7,35.7],[12.9,39.2],[15.2,35],[20.8,32.2],[27.5,30.9],[26.3,26],[34.1,24.6],[35.3,19],[31.9,16.2],[20.8,16.9],[14.1,19],[8.5,23.9],[-7.1,23]],
  [[33.5,12.4],[36.4,7.1],[39.7,0],[36.4,0],[34.1,5.7]],
  [[48.2,14.4],[53.1,10.6],[58.7,8.5],[65.4,7.4],[72.1,0],[59.8,0],[58.7,4.3],[53.1,7.1],[49.8,10.6]],
  [[87.7,3],[91,2.3],[92.2,0],[87.7,0]]
];
const bandLats = [40.9, 55.5];
const hatchLons = [-179.3,-165.9,-152.5,-139.5,-126.4,-113.4,-100,-86.6,-74.4,-61,-47.6,-34.2,-20.8,-7.9,5.6,18.7,32,44.9,58,71,84.4,97.8,110.7,124.1,137,150.2,163.6];

// ---- colours ----
const lagLineColors = { 10: '#c9ad82', 20: '#a88472', 30: '#5c3448', 40: '#0a800a', 50: '#a8701a', 60: '#f5200a', 70: '#8a0808', 80: '#6e0000' };
const asymLineColors = { '-30': '#4a70b0', '-20': '#70b8f5', '-10': '#c4f2ff', 0: '#808080', 10: '#ffd070', 20: '#ff7a48', 30: '#c04848' };

function hexRgb(h) {
  return [1, 3, 5].map(i => parseInt(h.substr(i, 2), 16));
}
function ramp(values, colors) {
  return v => {
    if (v <= values[0]) return colors[0];
    for (let i = 1; i < values.length; i++) {
      if (v <= values[i]) {
        const t = (v - values[i - 1]) / (values[i] - values[i - 1]);
        const a = hexRgb(colors[i - 1]), b = hexRgb(colors[i]);
        return 'rgb(' + a.map((c, k) => Math.round(c + (b[k] - c) * t)).join(',') + ')';
      }
    }
    return colors[colors.length - 1];
  };
}
const lagColor = ramp(lagStopValues, lagStopColors);
const asymColor = ramp(asymStopValues, asymStopColors);

// draws the box, the inward ticks and the texts that chart.js cannot offset per tick
const framePlugin = {
  id: 'frame',
  afterDatasetsDraw(chart, args, o) {
    const { ctx, chartArea: a, scales } = chart;
    const x = scales.x, y = scales.y;
    ctx.save();
    ctx.strokeStyle = o.color || '#444';
    ctx.lineWidth = o.width || 1.5;
    ctx.strokeRect(a.left, a.top, a.right - a.left, a.bottom - a.top);
    ctx.lineWidth = o.tickWidth || 1.5;
    ctx.beginPath();
    if (o.xTicks) {
      x.ticks.forEach(t => {
        const p = Math.round(x.getPixelForValue(t.value));
        ctx.moveTo(p, a.top); ctx.lineTo(p, a.top + 6);
        ctx.moveTo(p, a.bottom); ctx.lineTo(p, a.bottom - 6);
      });
    }
    y.ticks.forEach(t => {
      const p = Math.round(y.getPixelForValue(t.value));
      if (o.leftTicks) { ctx.moveTo(a.left, p); ctx.lineTo(a.left + 6, p); }
      if (o.rightTicks) { ctx.moveTo(a.right, p); ctx.lineTo(a.right - 6, p); }
    });
    ctx.stroke();

    ctx.fillStyle = '#333';
    ctx.textBaseline = 'middle';
    if (o.xTicks) {
      ctx.font = '17px "Liberation Sans"';
      ctx.textAlign = 'center';
      x.ticks.forEach((t, i) => {
        const shift = t.value < 0 ? 11.5 : t.value > 0 ? 7 : 0;
        ctx.fillText(lonLabels[i], x.getPixelForValue(t.value) + shift, a.bottom + o.xGap);
      });
    }
    if (o.barLabels) {
      ctx.font = '22.5px "Liberation Sans"';
      ctx.fillStyle = '#231f20';
      ctx.textAlign = 'right';
      y.ticks.forEach(t => {
        const edge = a.right + (t.value < 0 ? o.negRight : o.posRight);
        const top = t.value === 70 ? 9 : -2;
        ctx.fillText(String(t.value), edge, y.getPixelForValue(t.value) + top);
      });
    }
    if (o.notes) {
      ctx.font = '10.5px "Liberation Sans"';
      ctx.fillStyle = '#444';
      ctx.textAlign = 'center';
      o.notes.forEach(([lon, p, text]) => ctx.fillText(text, x.getPixelForValue(lon), y.getPixelForValue(p)));
    }
    ctx.restore();
  }
};

function toPoints(pts) {
  return pts.map(p => ({ x: p[0], y: p[1] }));
}

function isRectangle(line) {
  return line.length === 5;
}

function contourPanel(id, size, pad, opts) {
  const datasets = [];
  // big station markers on top, then the small soundings, then contours
  datasets.push({
    data: toPoints(opts.sites),
    showLine: false,
    pointRadius: 4.3,
    pointBorderColor: '#222',
    pointBorderWidth: 0.9,
    pointBackgroundColor: opts.sites.map(s => opts.color(s[2]))
  });
  datasets.push({
    data: toPoints(opts.dots),
    showLine: false,
    pointRadius: opts.dotRadius,
    pointBorderColor: opts.dotBorder,
    pointBorderWidth: opts.dotBorderWidth,
    pointBackgroundColor: opts.dots.map(d => opts.color(d[2]))
  });
  if (opts.pale) {
    datasets.push({
      data: toPoints(opts.pale),
      showLine: false,
      pointRadius: opts.paleRadius,
      pointBorderColor: opts.paleBorder,
      pointBorderWidth: 0.7,
      pointBackgroundColor: '#cf5a5a'
    });
  }
  opts.contours.forEach(([level, lines]) => {
    lines.forEach(line => {
      datasets.push({
        data: toPoints(line),
        showLine: true,
        pointRadius: 0,
        borderColor: opts.lineColors[level],
        borderWidth: level === 0 && opts.lineColors === asymLineColors ? 1.2 : opts.lineWidth,
        tension: isRectangle(line) ? 0 : 0.2
      });
    });
  });
  const el = document.getElementById(id);
  el.width = size[0];
  el.height = size[1];
  return new Chart(el, {
    type: 'scatter',
    data: { datasets },
    options: {
      responsive: false,
      animation: false,
      layout: { padding: pad },
      plugins: {
        legend: { display: false },
        tooltip: { enabled: false },
        frame: { xTicks: true, leftTicks: true, rightTicks: true, xGap: opts.xGap, notes: opts.labels }
      },
      scales: {
        x: {
          type: 'linear', min: -180, max: 180,
          grid: { display: false }, border: { display: false },
          ticks: { display: false },
          afterBuildTicks: s => { s.ticks = lonTicks.map(v => ({ value: v })); },
          afterFit: s => { s.height = 0; }
        },
        y: {
          type: 'linear', reverse: true, min: 400, max: opts.yMax,
          grid: { display: false, drawTicks: false }, border: { display: false },
          ticks: {
            autoSkip: false, padding: 2, crossAlign: 'center',
            labelOffset: opts.yShift,
            color: '#333',
            font: { family: 'Liberation Sans', size: 17.5 },
            callback: v => String(v)
          },
          afterBuildTicks: s => { s.ticks = pressureTicks.map(v => ({ value: v })); },
          afterFit: s => { s.width = 77; }
        }
      }
    },
    plugins: [framePlugin]
  });
}

contourPanel('panelA', [640, 385], { top: 32, bottom: 22.5, right: 25 }, {
  contours: [[30, max30], [40, max40], [50, max50], [60, max60]],
  lineColors: lagLineColors, color: lagColor, lineWidth: 1.4,
  dots: maxDots, sites: maxSites, labels: maxLabels,
  pale: maxPale, paleRadius: 2.6, paleBorder: '#666',
  dotRadius: 2.1, dotBorder: 'rgba(255,255,255,0.7)', dotBorderWidth: 0.5,
  yMax: 1020, yShift: -9, xGap: 7.5
});
contourPanel('panelB', [640, 375], { top: 22.3, bottom: 22, right: 25 }, {
  contours: [[10, min10], [20, min20], [30, min30], [40, min40], [50, min50], [60, min60], [70, min70], [80, min80]],
  lineColors: lagLineColors, color: lagColor, lineWidth: 1.4,
  dots: minDots, sites: minSites, labels: minLabels,
  pale: minPale, paleRadius: 1.3, paleBorder: 'rgba(255,255,255,0)',
  dotRadius: 2.1, dotBorder: 'rgba(255,255,255,0.7)', dotBorderWidth: 0.5,
  yMax: 1020, yShift: -2, xGap: 13
});
contourPanel('panelC', [640, 375], { top: 22.3, bottom: 20.7, right: 25 }, {
  contours: [[0, asym0], [-10, asymN10], [-20, asymN20], [-30, asymN30], [10, asymP10], [20, asymP20], [30, asymP30]],
  lineColors: asymLineColors, color: asymColor, lineWidth: 1.9,
  dots: asymDots, sites: asymSites, labels: asymLabels,
  dotRadius: 3, dotBorder: '#2a2a2a', dotBorderWidth: 1,
  yMax: 1022, yShift: -1.2, xGap: 13
});

// ---- map ----
function stipple(base, dot) {
  const c = document.createElement('canvas');
  c.width = 3; c.height = 3;
  const g = c.getContext('2d');
  g.fillStyle = base;
  g.fillRect(0, 0, 3, 3);
  g.fillStyle = dot;
  g.fillRect(1, 0, 1, 2);
  return g.createPattern(c, 'repeat');
}
const oceanFill = stipple('#1616e6', '#2a34c8');
const landFill = stipple('#1fae1f', '#2aa040');

function polygon(pts, fill, edge, order) {
  return {
    data: toPoints(pts.concat([pts[0]])),
    showLine: true, pointRadius: 0, tension: 0, fill: 'shape',
    backgroundColor: fill, borderColor: edge, borderWidth: 1, order
  };
}
const mapEl = document.getElementById('panelMap');
mapEl.width = 640;
mapEl.height = 260;
const landEdge = '#0f5a2a';
new Chart(mapEl, {
  type: 'scatter',
  data: {
    datasets: [
      polygon(americaLand, landFill, landEdge, 6),
      polygon(eurasiaLand, landFill, landEdge, 6),
      ...islands.map(p => polygon(p, landFill, landEdge, 4)),
      ...inlandSeas.map(p => polygon(p, oceanFill, '#101880', 5)),
      ...bandLats.map(lat => ({
        data: [{ x: -180, y: lat }, { x: 180, y: lat }],
        showLine: true, pointRadius: 0, borderColor: '#9a9a9a', borderWidth: 3, order: 1
      })),
      ...hatchLons.map(lon => ({
        data: [{ x: lon, y: bandLats[0] }, { x: lon + 15.2, y: bandLats[1] }],
        showLine: true, pointRadius: 0, borderColor: 'rgba(185,185,185,0.75)', borderWidth: 1, order: 2
      }))
    ]
  },
  options: {
    responsive: false,
    animation: false,
    layout: { padding: { top: 14, bottom: 31, right: 25 } },
    plugins: {
      legend: { display: false },
      tooltip: { enabled: false },
      frame: { color: '#888', width: 1.5, xTicks: true, leftTicks: true, xGap: 12 }
    },
    scales: {
      x: {
        type: 'linear', min: -180, max: 180,
        grid: { display: false }, border: { display: false }, ticks: { display: false },
        afterBuildTicks: s => { s.ticks = lonTicks.map(v => ({ value: v })); },
        afterFit: s => { s.height = 0; }
      },
      y: {
        type: 'linear', min: 0, max: 90,
        grid: { display: false }, border: { display: false }, ticks: { display: false },
        afterBuildTicks: s => { s.ticks = latTicks.map(v => ({ value: v })); },
        afterFit: s => { s.width = 77; }
      }
    }
  },
  plugins: [framePlugin, {
    id: 'ocean',
    beforeDatasetsDraw(chart) {
      const { ctx, chartArea: a } = chart;
      ctx.save();
      ctx.fillStyle = oceanFill;
      ctx.fillRect(a.left, a.top, a.right - a.left, a.bottom - a.top);
      ctx.restore();
    }
  }]
});

// ---- colorbars ----
function colorbar(id, size, pad, bands, ticks, color, range, frame) {
  const el = document.getElementById(id);
  el.width = size[0];
  el.height = size[1];
  const datasets = bands.slice(0, -1).map((lo, i) => ({
    data: [[lo, bands[i + 1]]],
    backgroundColor: color((lo + bands[i + 1]) / 2),
    borderWidth: 0
  }));
  return new Chart(el, {
    type: 'bar',
    data: { labels: ['days'], datasets },
    options: {
      responsive: false,
      animation: false,
      layout: { padding: pad },
      datasets: { bar: { barPercentage: 1, categoryPercentage: 1, grouped: false } },
      plugins: {
        legend: { display: false },
        tooltip: { enabled: false },
        frame: Object.assign({ rightTicks: true, barLabels: true }, frame)
      },
      scales: {
        x: {
          grid: { display: false }, border: { display: false }, ticks: { display: false },
          afterFit: s => { s.height = 0; }
        },
        y: {
          type: 'linear', min: range[0], max: range[1],
          grid: { display: false }, border: { display: false }, ticks: { display: false },
          afterBuildTicks: s => { s.ticks = ticks.map(v => ({ value: v })); },
          afterFit: s => { s.width = 0; }
        }
      }
    },
    plugins: [framePlugin]
  });
}
colorbar('barLag', [67, 552], { left: 9.5, right: 38, top: 12.5, bottom: 11 }, lagBands, lagTicks, lagColor, [-20, 70],
  { color: '#333', width: 3, tickWidth: 2, posRight: 30, negRight: 36 });
colorbar('barAsym', [72, 335], { left: 10, right: 43, top: 13, bottom: 12.5 }, asymBands, asymTicks, asymColor, [-32, 32],
  { color: '#444', width: 2.5, tickWidth: 2, posRight: 35.5, negRight: 37.5 });
</script>
</body>
</html>
